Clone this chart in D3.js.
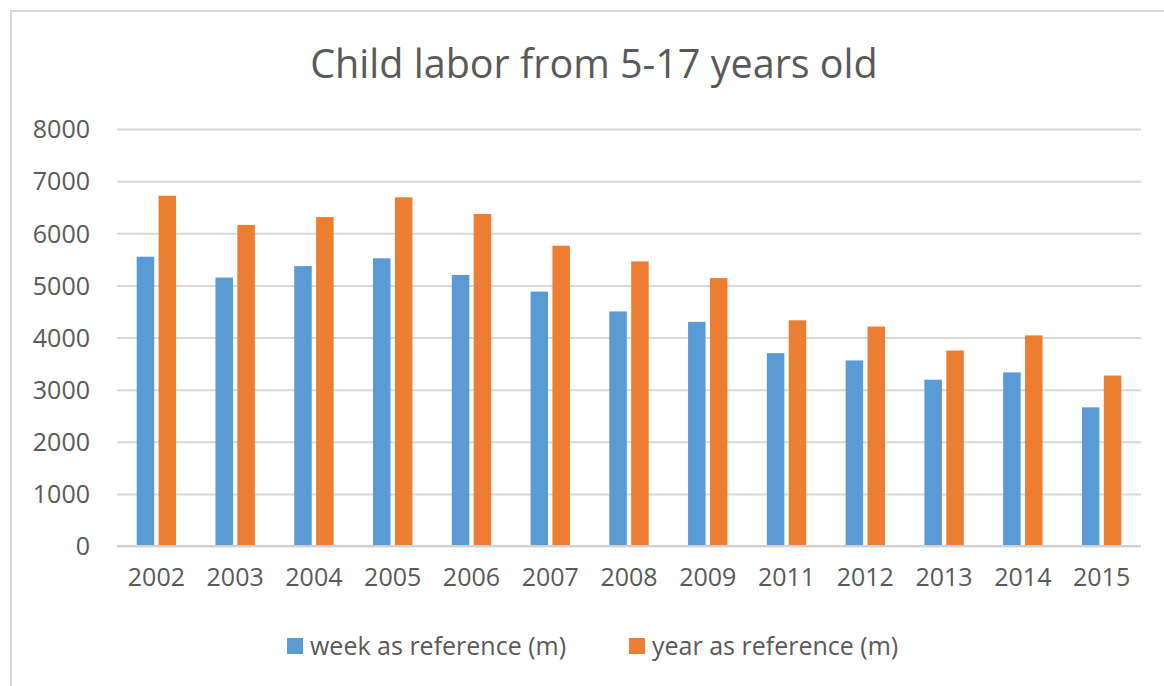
<!DOCTYPE html>
<html>
<head>
<meta charset="utf-8">
<script src="https://cdn.jsdelivr.net/npm/d3@7"></script>
<style>
	body { margin: 0; background: #fff; }
	text { font-family: "Open Sans", sans-serif; fill: #595959; }
</style>
</head>
<body>
<svg id="chart" width="1164" height="686"></svg>
<script>
"use strict";

/* global d3 */

// Chart data
var years = ['2002', '2003', '2004', '2005', '2006', '2007', '2008', '2009', '2011', '2012', '2013', '2014', '2015'];
var weekRef = [5550, 5150, 5370, 5520, 5200, 4880, 4500, 4300, 3700, 3560, 3190, 3330, 2660];
var yearRef = [6720, 6160, 6310, 6690, 6370, 5760, 5460, 5140, 4330, 4210, 3750, 4040, 3270];
var seriesNames = ['week as reference (m)', 'year as reference (m)'];
var seriesColors = ['#5B9BD5', '#ED7D31'];
var yTicks = [0, 1000, 2000, 3000, 4000, 5000, 6000, 7000, 8000];

var svg = d3.select('#chart');

// Outer frame (runs off the right and bottom edges)
svg.append('rect').attr('x', 11).attr('y', 11).attr('width', 1200).attr('height', 720).
	style('fill', 'none').style('stroke', '#D9D9D9').style('stroke-width', 2);

// Plot area
var plot = {l: 117, r: 1141, t: 129, b: 546};

var x = d3.scaleBand().domain(years).range([plot.l, plot.r]).paddingInner(0.5).paddingOuter(0.25);
var xs = d3.scaleBand().domain([0, 1]).range([0, x.bandwidth()]).paddingInner(0.2);
var y = d3.scaleLinear().domain([0, 8000]).range([plot.b, plot.t]);

// Title
svg.append('text').attr('x', 594).attr('y', 78).attr('text-anchor', 'middle').
	style('font-size', '39.5px').text('Child labor from 5-17 years old');

// Gridlines and y labels
var yAxis = d3.axisLeft(y).tickValues(yTicks).tickFormat(d3.format('d')).
	tickSize(-(plot.r - plot.l)).tickPadding(27);
var gy = svg.append('g').attr('transform', 'translate(' + plot.l + ',0)').call(yAxis);
gy.select('.domain').remove();
gy.selectAll('.tick line').style('stroke', '#D9D9D9').style('stroke-width', 2);
gy.selectAll('.tick text').style('font-size', '25px').style('fill', '#595959').attr('dy', '0.35em');

// Bars
var series = [weekRef, yearRef];
series.forEach(function(vals, si) {
	svg.append('g').selectAll('rect').data(vals).enter().append('rect').
		attr('x', function(d, i) { return x(years[i]) + xs(si); }).
		attr('y', function(d) { return y(d); }).
		attr('width', xs.bandwidth()).
		attr('height', function(d) { return y(0) - y(d); }).
		style('fill', seriesColors[si]);
});

// X axis
var xAxis = d3.axisBottom(x).tickSize(0).tickPadding(22);
var gx = svg.append('g').attr('transform', 'translate(0,' + plot.b + ')').call(xAxis);
gx.select('.domain').attr('d', 'M' + plot.l + ',0H' + plot.r).style('stroke', '#D0D0D0').style('stroke-width', 2);
gx.selectAll('.tick text').style('font-size', '25px').style('fill', '#595959');

// Legend
var legend = [{x: 287, name: seriesNames[0], color: seriesColors[0]},
	{x: 629, name: seriesNames[1], color: seriesColors[1]}];
var lg = svg.append('g').selectAll('g').data(legend).enter().append('g').
	attr('transform', function(d) { return 'translate(' + d.x + ',638)'; });
lg.append('rect').attr('width', 16).attr('height', 16).style('fill', function(d) { return d.color; });
lg.append('text').attr('x', 23).attr('y', 17).style('font-size', '25px').text(function(d) { return d.name; });

/* EOF */
</script>
</body>
</html>
